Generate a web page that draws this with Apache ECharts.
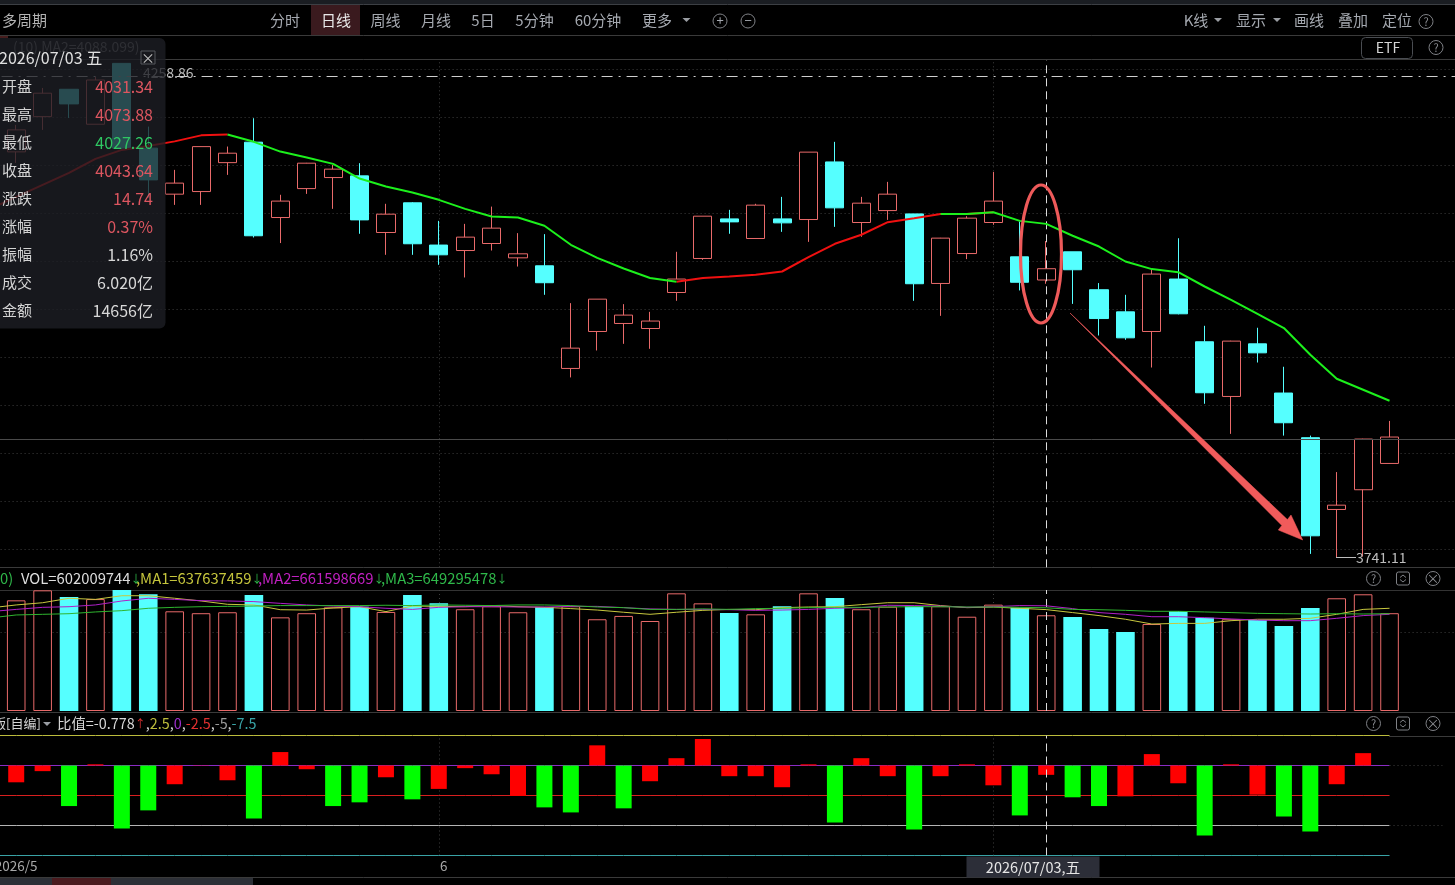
<!DOCTYPE html>
<html>
<head>
<meta charset="utf-8">
<title>多周期 日线</title>
<script src="https://cdn.jsdelivr.net/npm/echarts@6/dist/echarts.min.js"></script>
<style>
html,body{margin:0;padding:0;background:#000;overflow:hidden}
#chart{width:1455px;height:885px}
</style>
</head>
<body>
<div id="chart"></div>
<script>
// Trading days shown on the daily chart; the first and last two only pad the axis.
const dates = ['2026/05/07','2026/05/08','2026/05/11','2026/05/12','2026/05/13','2026/05/14','2026/05/15','2026/05/18','2026/05/19','2026/05/20','2026/05/21','2026/05/22','2026/05/25','2026/05/26','2026/05/27','2026/05/28','2026/05/29','2026/06/01','2026/06/02','2026/06/03','2026/06/04','2026/06/05','2026/06/08','2026/06/09','2026/06/10','2026/06/11','2026/06/12','2026/06/15','2026/06/16','2026/06/17','2026/06/18','2026/06/22','2026/06/23','2026/06/24','2026/06/25','2026/06/26','2026/06/29','2026/06/30','2026/07/01','2026/07/02','2026/07/03','2026/07/06','2026/07/07','2026/07/08','2026/07/09','2026/07/10','2026/07/13','2026/07/14','2026/07/15','2026/07/16','2026/07/17','2026/07/20','2026/07/21','2026/07/22','2026/07/23','2026/07/24'];

const priceOpen = [4173.0,4212.8,4244.0,4204.2,4273.7,4177.2,4125.7,4128.6,4160.9,4183.9,4099.8,4131.9,4144.2,4146.1,4083.3,4116.1,4069.5,4063.5,4071.2,4055.5,4046.8,3936.4,3975.8,3984.4,3979.0,4017.8,4054.8,4098.3,4076.7,4098.3,4097.6,4161.7,4094.3,4107.5,4103.8,4027.6,4060.2,4094.3,4056.6,4031.34,4062.1,4020.8,3996.9,3975.8,4032.4,3964.8,3906.8,3962.6,3910.4,3863.6,3789.6,3809.8,3836.9];
const priceClose = [4197.8,4239.5,4227.3,4254.6,4177.2,4141.6,4138.0,4178.9,4171.5,4079.7,4118.0,4160.3,4153.6,4097.2,4103.5,4070.9,4058.8,4078.2,4088.1,4059.9,4028.4,3958.0,4010.6,3993.4,3987.0,4032.4,4101.3,4095.0,4113.5,4093.9,4172.7,4110.5,4115.7,4125.7,4027.3,4077.1,4099.1,4118.0,4028.9,4043.64,4042.5,3989.7,3969.0,4037.8,3994.8,3910.7,3965.5,3953.0,3879.2,3762.8,3794.0,3862.2,3864.3];
const priceLow = [4160.6,4197.8,4211.3,4204.2,4175.2,4121.6,4113.8,4113.8,4147.2,4077.8,4071.7,4126.0,4109.4,4081.9,4058.8,4058.8,4047.9,4034.1,4063.5,4046.0,4015.3,3926.9,3955.5,3962.6,3957.3,4008.8,4053.3,4081.9,4076.4,4084.0,4073.0,4089.5,4078.6,4097.2,4008.8,3992.6,4054.1,4091.8,4020.0,4027.26,4005.5,3971.5,3966.9,3937.4,3994.2,3899.1,3867.6,3942.7,3865.8,3744.5,3741.11,3741.8,3836.9];
const priceHigh = [4203.4,4245.5,4244.0,4258.0,4273.7,4201.5,4152.8,4179.0,4179.0,4211.0,4125.0,4160.6,4158.3,4160.3,4115.0,4116.8,4096.1,4092.8,4111.9,4082.6,4081.5,4006.3,4010.6,4005.2,3996.9,4062.1,4101.3,4108.3,4115.0,4122.7,4172.7,4184.3,4122.7,4139.4,4103.8,4077.4,4101.3,4150.5,4095.4,4073.88,4062.1,4028.0,4015.3,4042.5,4077.0,3981.9,3965.9,3979.8,3938.2,3865.8,3828.0,3862.5,3881.1];
// The averages carry one extra leading value for the session just off the left edge.
const priceMA = [4109.0,4122.7,4136.1,4149.4,4165.1,4175.2,4179.7,4184.8,4191.6,4192.5,4184.3,4173.3,4166.6,4159.5,4143.1,4134.2,4127.6,4119.4,4109.4,4100.9,4099.8,4090.7,4069.8,4055.5,4043.9,4033.5,4029.4,4033.5,4035.2,4037.0,4040.6,4056.3,4070.9,4080.8,4094.7,4099.1,4103.8,4103.8,4105.7,4096.1,4092.8,4079.7,4067.9,4051.5,4043.2,4039.9,4024.3,4009.9,3994.8,3979.5,3950.9,3925.5,3913.9,3902.3];

// Price levels of the dotted rules, the reference level and the marked high.
const priceRules = [4266.9,4212.1,4158.0,4104.6,4051.9,3999.8,3948.4,3897.7,3847.6,3798.1,3749.3];
const referencePrice = 3861.8;
const markedHigh = 4258.86;
const markedLow = 3741.11;

// Volume in millions of shares and its three moving averages.
const volume = [696,759,717,704,761,734,627,615,621,730,589,615,652,656,623,730,677,640,659,621,654,659,577,598,566,740,677,616,608,659,740,711,640,656,659,659,593,669,650,602.01,591,516,497,547,629,587,577,572,535,648,709,734,615];
const volMA1 = [648,667,681,709,702,725,725,709,692,671,667,637,635,648,656,625,660,658,656,663,656,652,644,635,621,608,621,633,639,637,650,654,656,669,681,681,663,650,654,646,637.64,619,600,577,547,551,551,568,577,577,583,608,639,646];
const volMA2 = [625,639,652,656,667,692,709,702,694,692,688,677,667,660,656,646,639,652,656,656,654,654,658,658,650,642,639,639,637,633,635,639,646,650,665,663,660,652,656,663,661.6,644,619,608,593,593,587,579,572,568,568,583,600,608];
const volMA3 = [585,604,608,612,623,631,646,652,656,658,660,663,663,663,663,665,663,667,665,663,667,667,663,654,650,639,639,642,639,644,646,650,652,652,654,656,656,654,654,652,649.3,639,637,633,627,627,623,619,614,612,610,612,610,612];
const volumeRule = 492.5;

// Ratio indicator: bar value, whether it is painted red (1) or green (0), and its level lines.
const ratioValues = [-1.40,-0.47,-3.38,0.10,-5.25,-3.74,-1.56,0.02,-1.23,-4.41,1.12,-0.31,-3.38,-3.07,-0.98,-2.82,-1.95,-0.22,-0.73,-2.54,-3.49,-3.91,1.68,-3.57,-1.31,0.61,2.21,-0.89,-0.89,-1.81,0.10,-4.75,0.61,-0.89,-5.33,-0.89,0.10,-1.65,-4.16,-0.778,-2.65,-3.38,-2.57,0.95,-1.48,-5.83,0.10,-2.43,-4.24,-5.50,-1.56,1.03,0];
const ratioRed = [1,1,0,1,0,0,1,1,1,0,1,1,0,0,1,0,1,1,1,1,0,0,1,0,1,1,1,1,1,1,1,0,1,1,0,1,1,1,0,1,0,0,1,1,1,0,1,1,0,0,1,1,1];
const ratioLevels = [2.5,0,-2.5,-5,-7.5];
const levelColors = ['#bcbc3c','#8a2cc4','#d81f1f','#b4b4b4','#39a3a6'];
const dottedLevels = [0,-5];

const monthStarts = ['2026/06/01','2026/07/01'];
const crosshairDate = '2026/07/03';

const topTabs = [['分时',285],['周线',385.5],['月线',436],['5日',483],['5分钟',534.5],['60分钟',598],['更多',657],['K线',1196],['显示',1251],['画线',1309],['叠加',1353],['定位',1397]];
const panelRows = [['开盘','4031.34','#dd5660'],['最高','4073.88','#dd5660'],['最低','4027.26','#2fc763'],['收盘','4043.64','#dd5660'],['涨跌','14.74','#dd5660'],['涨幅','0.37%','#dd5660'],['振幅','1.16%','#d8d8d8'],['成交','6.020亿','#d8d8d8'],['金额','14656亿','#d8d8d8']];

const FONT = '"Noto Sans CJK SC","Noto Sans",sans-serif';
const UP_LINE = '#e96a6a', DOWN_FILL = '#55ffff';

const pad = arr => [null, ...arr, null, null];
const tail = arr => [...arr, null, null];
const isUp = i => priceClose[i] >= priceOpen[i];

const candleData = pad(priceOpen.map((o, i) => [o, priceClose[i], priceLow[i], priceHigh[i]]))
  .map(v => v || ['-', '-', '-', '-']);

// The average is red along rising stretches and green along falling ones.
const rising = i => i > 0 && i < priceMA.length && priceMA[i] > priceMA[i - 1];
const falling = i => i > 0 && i < priceMA.length && priceMA[i] <= priceMA[i - 1];
const maRed = priceMA.map((v, i) => (rising(i) || rising(i + 1)) ? v : null);
const maGreen = priceMA.map((v, i) => (falling(i) || falling(i + 1)) ? v : null);

const volumeData = pad(volume.map((v, i) => ({
  value: v,
  itemStyle: isUp(i)
    ? { color: '#000', borderColor: UP_LINE, borderWidth: 1 }
    : { color: DOWN_FILL, borderColor: DOWN_FILL, borderWidth: 0 }
})));
const ratioData = pad(ratioValues.map((v, i) => ({
  value: v,
  itemStyle: { color: ratioRed[i] ? '#ff0000' : '#00ff00' }
})));

const dot = { type: [1, 3], color: '#3e3e3e', width: 1 };
const cross = { type: [8, 5], color: '#dcdcdc', width: 1 };
const monthLines = () => monthStarts.map(d => ({ xAxis: d, lineStyle: dot }));
const crossLine = () => ({ xAxis: crosshairDate, lineStyle: cross });
const marks = data => ({
  silent: true, symbol: 'none', animation: false, label: { show: false }, data
});
// An empty series that only carries rules, kept behind the bars of its pane.
const ruleSeries = (name, pane, data) => ({
  name, type: 'line', xAxisIndex: pane, yAxisIndex: pane, data: [], silent: true, z: 1,
  markLine: Object.assign(marks(data), { z: 1 })
});

// The plot starts one band left of the window so its first session sits at the edge.
const bandW = 26.41, gridX = -23.4, gridW = bandW * dates.length;
const paneGrid = (top, height) => ({ left: gridX, width: gridW, top, height, outerBoundsMode: 'none', containLabel: false });
const hiddenX = {
  type: 'category', data: dates, boundaryGap: true,
  axisLine: { show: false }, axisTick: { show: false }, axisLabel: { show: false }, splitLine: { show: false }
};
const hiddenY = { axisLine: { show: false }, axisTick: { show: false }, axisLabel: { show: false }, splitLine: { show: false } };
const thin = (name, values, color) => ({
  name, type: 'line', xAxisIndex: 1, yAxisIndex: 1, data: tail(values), showSymbol: false, symbol: 'none',
  lineStyle: { color, width: 1 }, silent: true, z: 5
});

// Window furniture drawn around the three panes.
const g = [];
const text = (x, y, t, color, extra) => g.push({
  type: 'text', x, y, z: (extra && extra.z) || 10, silent: true,
  style: Object.assign({ text: t, fill: color, font: '15px ' + FONT, align: 'left', verticalAlign: 'middle' }, extra && extra.style)
});
const hline = (y, x1, x2, color, z) => g.push({ type: 'line', z: z || 1, silent: true, shape: { x1, y1: y, x2, y2: y }, style: { stroke: color, lineWidth: 1 } });
const caret = (x, y) => g.push({ type: 'polygon', z: 10, silent: true, shape: { points: [[x - 4, y - 2], [x + 4, y - 2], [x, y + 2]] }, style: { fill: '#9a9da3' } });
const ring = (x, y, r, z) => g.push({ type: 'circle', z: z || 10, silent: true, shape: { cx: x, cy: y, r }, style: { fill: 'none', stroke: '#7f8186', lineWidth: 1 } });
const help = (x, y) => {
  ring(x, y, 7);
  text(x, y, '?', '#8a8c91', { style: { align: 'center', font: '11px ' + FONT } });
};
const snap = (x, y) => {
  g.push({ type: 'rect', z: 10, silent: true, shape: { x: x - 6.5, y: y - 6.5, width: 13, height: 13, r: 2 }, style: { fill: 'none', stroke: '#7f8186', lineWidth: 1 } });
  g.push({ type: 'polyline', z: 10, silent: true, shape: { points: [[x - 3, y - 1], [x, y - 3.5], [x + 3, y - 1]] }, style: { fill: 'none', stroke: '#7f8186', lineWidth: 1 } });
  g.push({ type: 'polyline', z: 10, silent: true, shape: { points: [[x - 3, y + 1], [x, y + 3.5], [x + 3, y + 1]] }, style: { fill: 'none', stroke: '#7f8186', lineWidth: 1 } });
};
const closeRing = (x, y, r) => {
  ring(x, y, r);
  text(x, y, '×', '#8a8c91', { style: { align: 'center', font: '13px ' + FONT } });
};

g.push({ type: 'rect', z: 0, silent: true, shape: { x: 0, y: 0, width: 1455, height: 4 }, style: { fill: '#1a1d22' } });
hline(4.5, 0, 1455, '#3c3f44');
hline(35.5, 0, 1455, '#3a3a3a');
hline(59.5, 0, 1455, '#3a3a3a');
hline(567.5, 0, 1455, '#3a3a3a');
hline(590.5, 0, 1455, '#333333');
hline(712.5, 0, 1455, '#3a3a3a');
hline(736.5, 1389, 1455, '#3a3a3a');
hline(877.5, 0, 1455, '#3a3a3a');
g.push({ type: 'rect', z: 1, silent: true, shape: { x: 0, y: 878, width: 253, height: 7 }, style: { fill: '#2c2f36' } });
g.push({ type: 'rect', z: 2, silent: true, shape: { x: 52, y: 878, width: 59, height: 7 }, style: { fill: '#4a1a1e' } });
hline(37, 0, 8, '#8e3a3a');

text(2, 20, '多周期', '#b4b4b4');
g.push({ type: 'rect', z: 1, silent: true, shape: { x: 311, y: 5, width: 49, height: 30 }, style: { fill: '#3a1a1e' } });
text(336, 20, '日线', '#e8e8e8', { style: { align: 'center' } });
topTabs.forEach(([t, x]) => text(x, 20, t, '#a5a9b0', { style: { align: 'center' } }));
caret(686.5, 20); caret(1218, 20); caret(1277, 20);
ring(720, 21, 7); ring(748, 21, 7);
text(720, 20.5, '+', '#a5a9b0', { style: { align: 'center', font: '13px ' + FONT } });
text(748, 20.5, '−', '#a5a9b0', { style: { align: 'center', font: '13px ' + FONT } });
help(1426, 21.5);
g.push({ type: 'rect', z: 10, silent: true, shape: { x: 1361.5, y: 37.5, width: 51, height: 21, r: 4 }, style: { fill: '#000', stroke: '#4a4d52', lineWidth: 1 } });
text(1388, 48, 'ETF', '#d6d6d6', { style: { align: 'center', font: '14px ' + FONT } });
help(1436, 47.5);
[[578.5], [723.5]].forEach(([y]) => { help(1373.5, y); snap(1403, y); closeRing(1433, y, 7); });

// Labels beside the highest and lowest marks, partly beneath the info panel.
text(143, 73, String(markedHigh), '#bdbdbd', { style: { font: '14px ' + FONT } });
text(13, 47, '(10) MA2=4088.099)', '#707070', { z: 2, style: { font: '14px ' + FONT } });
hline(557.5, 1336, 1356, '#bdbdbd', 6);
text(1356, 558, String(markedLow), '#bdbdbd', { style: { font: '14px ' + FONT } });

// Hand-drawn annotation: the circled session and the falling arrow.
g.push({ type: 'ellipse', z: 20, silent: true, shape: { cx: 1041, cy: 254, rx: 20.5, ry: 69 }, style: { fill: 'none', stroke: '#ee5a5a', lineWidth: 3.2 } });
g.push({ type: 'polygon', z: 20, silent: true, shape: { points: [[1070, 313], [1287.4, 519.6], [1291, 515], [1302.7, 540], [1278.3, 530], [1281.8, 525.4]] }, style: { fill: '#f15b5b', stroke: '#f15b5b', lineWidth: 0.5 } });

// Pane captions.
const capFont = '14.8px ' + FONT, arrowFont = '11px ' + FONT;
const caption = (x, label, color, arrowColor) => g.push({
  type: 'text', x, y: 578.5, z: 10, silent: true,
  style: {
    verticalAlign: 'middle', font: capFont, text: '{a|' + label + '}{b|↓}',
    rich: { a: { fill: color, font: capFont }, b: { fill: arrowColor, font: arrowFont } }
  }
});
text(0, 578.5, '0)', '#2fb84a', { style: { font: capFont } });
caption(21, 'VOL=602009744', '#dedede', '#2fb84a');
caption(136, ',MA1=637637459', '#c4c43c', '#2fb84a');
caption(258, ',MA2=661598669', '#c020c0', '#2fb84a');
caption(381, ',MA3=649295478', '#2fb84a', '#2fb84a');

const ratioFont = '14.4px ' + FONT;
text(-7, 723.5, '版[自编]', '#d6d6d6', { style: { font: '13px ' + FONT } });
caret(47, 724);
g.push({
  type: 'text', x: 57, y: 723.5, z: 10, silent: true,
  style: {
    verticalAlign: 'middle', font: ratioFont,
    text: '{w|比值=-0.778}{u|↑}{w|,}{y|2.5}{w|,}{p|0}{w|,}{r|-2.5}{w|,}{s|-5}{w|,}{t|-7.5}',
    rich: {
      w: { fill: '#d6d6d6', font: ratioFont }, r: { fill: '#e03030', font: ratioFont }, u: { fill: '#e03030', font: arrowFont },
      y: { fill: '#bcbc3c', font: ratioFont }, p: { fill: '#a030d0', font: ratioFont },
      s: { fill: '#9a9a9a', font: ratioFont }, t: { fill: '#39a3a6', font: ratioFont }
    }
  }
});

// Crosshair date tag.
g.push({ type: 'rect', z: 15, silent: true, shape: { x: 966.5, y: 856.5, width: 133, height: 21 }, style: { fill: '#2c2e38' } });
text(1033, 867, '2026/07/03,五', '#e6e6e6', { z: 16, style: { align: 'center', font: '14.5px ' + FONT } });

// Info panel over the left of the price pane.
g.push({ type: 'rect', z: 50, silent: true, shape: { x: -12, y: 38, width: 177.5, height: 290.5, r: 6 }, style: { fill: 'rgba(29,30,36,0.8)' } });
text(-1, 57.5, '2026/07/03 五', '#e0e0e0', { z: 51, style: { font: '16px ' + FONT } });
g.push({ type: 'rect', z: 51, silent: true, shape: { x: 141, y: 51, width: 14, height: 13 }, style: { fill: 'none', stroke: '#55575c', lineWidth: 1 } });
text(148, 57.5, '×', '#bfbfbf', { z: 52, style: { align: 'center', font: '14px ' + FONT } });
panelRows.forEach(([label, value, color], i) => {
  const y = 86.5 + i * 28;
  text(2, y, label, '#d4d4d4', { z: 51, style: { font: '15px ' + FONT } });
  text(153, y, value, color, { z: 51, style: { align: 'right', font: '16px ' + FONT } });
});

const chart = echarts.init(document.getElementById('chart'), null, { renderer: 'canvas' });
chart.setOption({
  animation: false,
  backgroundColor: '#000',
  textStyle: { fontFamily: FONT },
  grid: [paneGrid(60, 507.3), paneGrid(590, 121), paneGrid(735.5, 120)],
  xAxis: [
    Object.assign({}, hiddenX, { gridIndex: 0 }),
    Object.assign({}, hiddenX, { gridIndex: 1 }),
    {
      gridIndex: 2, type: 'category', data: dates, boundaryGap: true, position: 'bottom',
      axisLine: { show: false },
      axisTick: {
        show: true, alignWithLabel: true, length: 22,
        interval: i => dates[i] === monthStarts[0],
        lineStyle: { color: '#3a3a3a' }
      },
      splitLine: { show: false },
      axisLabel: {
        show: true, margin: 4, fontSize: 13.5, color: '#a8a8a8', fontFamily: FONT,
        interval: i => i === 1 || dates[i] === monthStarts[0],
        formatter: v => v === monthStarts[0] ? '{m|6}' : '2026/5',
        rich: { m: { padding: [0, 0, 0, 10], fontSize: 13.5, color: '#a8a8a8', fontFamily: FONT } }
      }
    }
  ],
  yAxis: [
    Object.assign({}, hiddenY, { gridIndex: 0, type: 'log', min: 3731.0, max: 4277.6 }),
    Object.assign({}, hiddenY, { gridIndex: 1, type: 'value', min: 0, max: 761 }),
    Object.assign({}, hiddenY, { gridIndex: 2, type: 'value', min: -7.5, max: 2.5 })
  ],
  series: [
    ruleSeries('价格刻度', 0, [...priceRules.map(p => ({ yAxis: p, lineStyle: dot })), ...monthLines()]),
    {
      name: 'K线', type: 'candlestick', xAxisIndex: 0, yAxisIndex: 0, data: candleData, barWidth: 18.6, silent: true, z: 3,
      itemStyle: { color: '#000', color0: DOWN_FILL, borderColor: UP_LINE, borderColor0: DOWN_FILL, borderWidth: 1 },
      markLine: marks([
        { yAxis: referencePrice, lineStyle: { type: 'solid', color: '#4a4a4a', width: 1 } },
        { yAxis: markedHigh, lineStyle: { type: [11, 6, 2, 6], color: '#cfcfcf', width: 1 } },
        crossLine()
      ])
    },
    { name: 'MA上行', type: 'line', xAxisIndex: 0, yAxisIndex: 0, data: tail(maRed), showSymbol: false, symbol: 'none', connectNulls: false, lineStyle: { color: '#f01010', width: 2 }, silent: true, z: 6 },
    { name: 'MA下行', type: 'line', xAxisIndex: 0, yAxisIndex: 0, data: tail(maGreen), showSymbol: false, symbol: 'none', connectNulls: false, lineStyle: { color: '#1cf01c', width: 2 }, silent: true, z: 6 },
    ruleSeries('VOL刻度', 1, [{ yAxis: volumeRule, lineStyle: dot }, ...monthLines()]),
    {
      name: 'VOL', type: 'bar', xAxisIndex: 1, yAxisIndex: 1, data: volumeData, barWidth: 18.6, silent: true, z: 3,
      markLine: marks([crossLine()])
    },
    thin('MA1', volMA1, '#c8c83e'),
    thin('MA2', volMA2, '#b020c8'),
    thin('MA3', volMA3, '#2fb52f'),
    ruleSeries('比值刻度', 2, monthLines()),
    ...ratioLevels.map((lv, k) => ({
      name: '比值线' + lv, type: 'line', xAxisIndex: 2, yAxisIndex: 2, clip: false,
      data: dates.map((d, i) => i < 54 ? lv : null),
      showSymbol: false, symbol: 'none', lineStyle: { color: levelColors[k], width: 1 }, silent: true, z: 2
    })),
    ...dottedLevels.map(lv => ({
      name: '比值点线' + lv, type: 'line', xAxisIndex: 2, yAxisIndex: 2, clip: false,
      data: dates.map((d, i) => i >= 53 ? lv : null),
      showSymbol: false, symbol: 'none', lineStyle: dot, silent: true, z: 2
    })),
    {
      name: '比值', type: 'bar', xAxisIndex: 2, yAxisIndex: 2, data: ratioData, barWidth: 16, silent: true, z: 4,
      markLine: marks([crossLine()])
    }
  ],
  graphic: g
});
</script>
</body>
</html>
